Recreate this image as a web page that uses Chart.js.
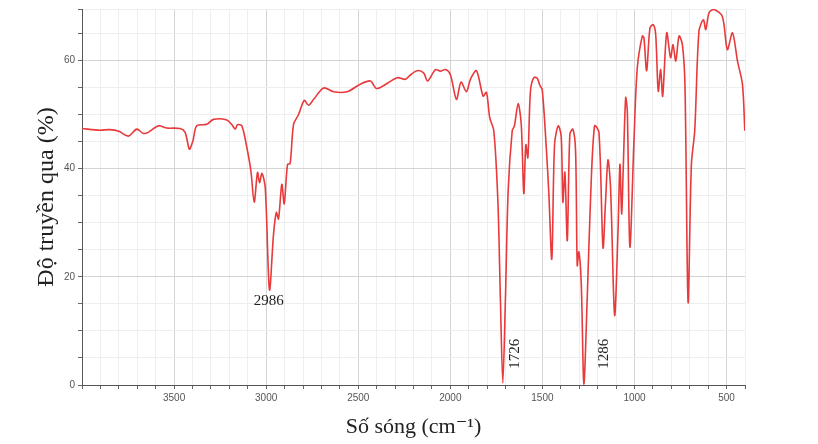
<!DOCTYPE html>
<html>
<head>
<meta charset="utf-8">
<script src="https://cdn.jsdelivr.net/npm/chart.js@4"></script>
<style>
  body { margin: 0; background: #fff; }
  #wrap { width: 818px; height: 444px; }
</style>
</head>
<body>
<div id="wrap"><canvas id="ir"></canvas></div>
<script>
// số sóng (cm-1) và độ truyền qua (%) đọc từ phổ
const wavenumbers = [4000,3902,3850,3800,3748,3703,3667,3640,3585,3540,3467,3440,3417,3398,3377,3322,3286,3214,3186,3168,3156,3132,3105,3083,3065,3047,3036,3023,3005,2982,2960,2945,2933,2915,2902,2884,2870,2851,2824,2793,2770,2742,2688,2634,2561,2489,2434,2398,2289,2244,2217,2181,2145,2123,2081,2054,2027,2000,1967,1942,1913,1891,1858,1822,1804,1786,1764,1742,1728,1715,1701,1686,1664,1652,1632,1615,1601,1590,1579,1565,1547,1528,1514,1501,1478,1465,1449,1434,1414,1398,1389,1378,1365,1351,1335,1320,1311,1302,1289,1275,1257,1239,1217,1193,1171,1157,1144,1130,1108,1090,1079,1070,1061,1048,1039,1025,1003,985,958,949,934,916,898,885,871,858,847,825,804,791,776,758,740,726,709,691,673,650,626,613,595,568,523,496,468,441,414,401];
const transmittance = [47.4,47.1,47.2,46.9,46.0,47.3,46.5,46.7,47.9,47.5,47.4,46.7,43.6,45.1,47.9,48.2,49.1,49.0,48.1,47.3,48.1,47.9,43.9,39.6,33.8,39.3,37.4,39.1,36.5,17.6,27.9,31.9,30.7,37.1,33.5,40.8,40.9,48.2,50.0,52.6,51.7,52.8,54.9,54.2,54.2,55.6,56.2,54.8,56.8,56.5,57.3,58.1,57.7,56.2,58.3,58.0,58.3,57.4,52.8,56.0,54.2,56.5,58.1,53.4,54.1,49.4,47.0,34.1,15.7,0.4,15.7,35.9,47.0,47.9,52.0,48.2,35.4,44.4,42.0,54.3,56.8,56.7,55.4,54.6,43.3,35.3,23.3,44.5,47.9,46.0,33.8,39.3,26.7,46.3,47.3,43.3,22.1,24.6,18.7,0.2,15.7,34.1,47.9,46.7,25.4,34.1,41.6,36.5,12.9,27.9,40.8,31.6,40.2,53.1,50.6,25.5,45.1,58.6,64.5,64.2,58.1,66.0,66.6,64.8,54.3,58.3,53.4,65.1,60.5,62.9,59.9,64.5,62.9,55.5,15.3,40.8,47.0,65.4,67.5,65.7,68.8,69.4,68.1,62.0,65.1,59.9,55.6,47.0];
// nhãn đỉnh: [số sóng, độ truyền qua, chữ, xoay dọc]
const peakLabels = [[2986, 15.5, '2986', false], [1650, 3.0, '1726', true], [1165, 3.0, '1286', true]];

const serif = '"Liberation Serif", "DejaVu Serif", serif';

const peakPlugin = {
    id: 'peaks',
    afterDatasetsDraw(chart) {
        const ctx = chart.ctx, x = chart.scales.x, y = chart.scales.y;
        ctx.save();
        ctx.fillStyle = '#222';
        ctx.font = '15px ' + serif;
        peakLabels.forEach(p => {
            const px = x.getPixelForValue(p[0]), py = y.getPixelForValue(p[1]);
            ctx.save();
            ctx.translate(px, py);
            if (p[3]) {
                ctx.rotate(-Math.PI / 2);
                ctx.textAlign = 'left';
            } else {
                ctx.textAlign = 'center';
            }
            ctx.textBaseline = 'middle';
            ctx.fillText(p[2], 0, 0);
            ctx.restore();
        });
        ctx.restore();
    }
};

new Chart(document.getElementById('ir'), {
    type: 'line',
    data: {
        datasets: [{
            data: wavenumbers.map((w, i) => ({ x: w, y: transmittance[i] })),
            borderColor: '#e8393b',
            borderWidth: 1.6,
            pointRadius: 0,
            tension: 0.3,
            fill: false
        }]
    },
    options: {
        responsive: true,
        maintainAspectRatio: false,
        animation: false,
        layout: { padding: { left: 28, right: 73, top: 8, bottom: 0 } },
        plugins: { legend: { display: false }, tooltip: { enabled: false } },
        scales: {
            x: {
                type: 'linear',
                reverse: true,
                min: 400,
                max: 4000,
                afterFit: s => { s.height = 59; },
                border: { color: '#555', width: 1 },
                grid: {
                    color: c => (c.tick.value % 500 === 0 ? '#d4d4d4' : '#eeeeee'),
                    tickLength: 4,
                    tickColor: '#666'
                },
                ticks: {
                    stepSize: 100,
                    autoSkip: false,
                    maxRotation: 0,
                    color: '#555',
                    font: { size: 10 },
                    callback: v => (v % 500 === 0 && v < 4000 ? v : '')
                },
                title: {
                    display: true,
                    text: 'Số sóng (cm⁻¹)',
                    color: '#222',
                    font: { family: serif, size: 22 },
                    padding: { top: 2 }
                }
            },
            y: {
                min: 0,
                max: 69.5,
                afterFit: s => { s.width = 54; },
                border: { color: '#555', width: 1 },
                grid: {
                    color: c => (c.tick.value % 20 === 0 ? '#d4d4d4' : '#eeeeee'),
                    tickLength: 4,
                    tickColor: '#666'
                },
                ticks: {
                    stepSize: 5,
                    autoSkip: false,
                    color: '#555',
                    font: { size: 10 },
                    callback: v => (v % 20 === 0 ? v : '')
                },
                title: {
                    display: true,
                    text: 'Độ truyền qua (%)',
                    color: '#222',
                    font: { family: serif, size: 24 },
                    padding: { bottom: 0 }
                }
            }
        }
    },
    plugins: [peakPlugin]
});
</script>
</body>
</html>
